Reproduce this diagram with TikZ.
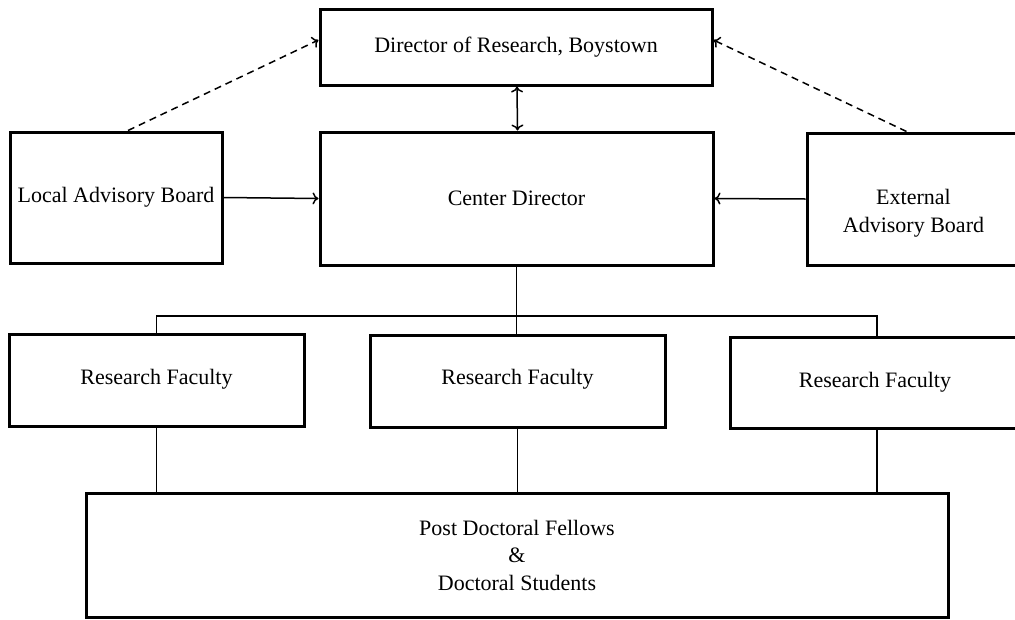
\documentclass[tikz,border=0pt]{standalone}
\usepackage{fontspec}
\setmainfont{Liberation Serif}
\usepackage{tikz}
\usetikzlibrary{calc}
\usetikzlibrary{shapes,arrows.meta}

\begin{document}
\begin{tikzpicture}[x=1pt,y=-1pt,>={To[length=6pt,width=12pt]}]
			\tikzstyle{every node}=[font=\fontsize{22}{27.5}\selectfont]
			\tikzstyle{orgbox}=[draw, line width=3pt, inner sep=0pt, align=center]
			\tikzstyle{link}=[line width=1.5pt]
			
			\useasboundingbox (0,0) rectangle (1015,619);
			
			\node[orgbox, minimum width=392pt, minimum height=76pt] (dor) at (516,47) {Director of Research, Boystown};
			\node[orgbox, minimum width=393pt, minimum height=133pt] (cd) at (516.5,198.5) {Center Director};
			\node[orgbox, minimum width=212pt, minimum height=131pt] (lab) at (116,197.5) {Local Advisory Board};
			\node[orgbox, minimum width=213pt, minimum height=132pt,
			  label={[align=center, yshift=-14pt]center:External\\Advisory Board}] (eab) at (913.5,199) {};
			
			\node[orgbox, minimum width=295pt, minimum height=92pt] (rf1) at (156.5,380) {\raisebox{6pt}{Research Faculty}};
			\node[orgbox, minimum width=295pt, minimum height=92pt] (rf2) at (517.5,381) {\raisebox{8pt}{Research Faculty}};
			\node[orgbox, minimum width=290pt, minimum height=91pt] (rf3) at (875,382.5) {\raisebox{6pt}{Research Faculty}};
			\node[orgbox, minimum width=862pt, minimum height=124pt] (pd) at (517,555) {Post Doctoral Fellows\\\&\\Doctoral Students};
			
			\coordinate (bus) at (517,316);
			
			% advisory links
			\draw[link, dash pattern=on 7pt off 5pt, ->] ([xshift=12pt]lab.north) -- ([yshift=7pt]dor.west);
			\draw[link, dash pattern=on 7pt off 5pt, ->] ([xshift=-7pt]eab.north) -- ([yshift=7pt]dor.east);
			\draw[link, ->] (lab.east) -- (cd.west);
			\draw[link, ->] (eab.west) -- (cd.west -| cd.east);
			\draw[link, <->] ([xshift=1pt]dor.south) -- ([xshift=1pt]cd.north);
			
			% faculty
			\draw[link] (cd.south) -- (cd.south |- rf2.north);
			\draw[link] (rf1.north) |- (bus) -| ([xshift=2pt]rf3.north);
			\draw[link] (rf1.south) -- (rf1.south |- pd.north);
			\draw[link] (rf2.south) -- (rf2.south |- pd.north);
			\draw[link] ([xshift=2pt]rf3.south) -- ([xshift=2pt]rf3.south |- pd.north);
			
\end{tikzpicture}
\end{document}
